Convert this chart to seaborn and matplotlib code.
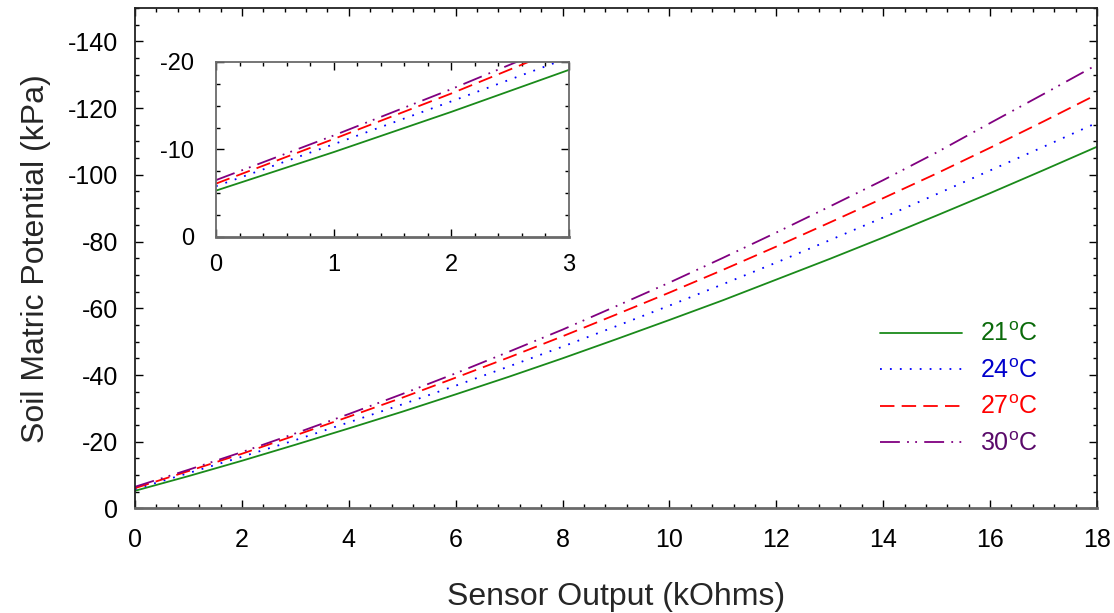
import numpy as np
import pandas as pd
import matplotlib
matplotlib.use("Agg")
import matplotlib.pyplot as plt
from matplotlib.ticker import MultipleLocator
import seaborn as sns

# ---- data ----
sensor_kohm = [0, 1, 2, 3, 4, 5, 6, 7, 8, 9, 10, 11, 12, 13, 14, 15, 16, 17, 18]
t21 = [-5.3, -9.7, -14.3, -19.1, -24.0, -29.0, -34.2, -39.5, -45.0, -50.7, -56.5,
       -62.4, -68.6, -74.8, -81.2, -87.8, -94.5, -101.4, -108.4]
t24 = [-5.8, -10.6, -15.5, -20.5, -25.8, -31.2, -36.8, -42.6, -48.5, -54.6, -60.8,
       -67.2, -73.7, -80.4, -87.2, -94.2, -101.3, -108.4, -115.6]
t27 = [-6.1, -11.2, -16.4, -21.9, -27.5, -33.2, -39.2, -45.3, -51.6, -58.1, -64.7,
       -71.5, -78.5, -85.7, -93.0, -100.4, -108.1, -116.0, -124.1]
t30 = [-6.5, -11.6, -16.9, -22.5, -28.3, -34.3, -40.5, -47.0, -53.6, -60.6, -67.7,
       -75.1, -82.7, -90.5, -98.4, -106.7, -115.5, -124.2, -133.0]
series_labels = ["21$^\\mathrm{o}$C", "24$^\\mathrm{o}$C", "27$^\\mathrm{o}$C", "30$^\\mathrm{o}$C"]
x_ticks_main = [0, 2, 4, 6, 8, 10, 12, 14, 16, 18]
y_ticks_main = [0, -20, -40, -60, -80, -100, -120, -140]
x_ticks_inset = [0, 1, 2, 3]
y_ticks_inset = [0, -10, -20]

# ---- styles ----
line_colors = ["#1a8a1a", "#0000ff", "#ff0000", "#800080"]
text_colors = ["#0a6a0a", "#0000cc", "#ff0000", "#5a0a6a"]
line_styles = ["-", (0, (1, 4.5)), (0, (8, 4)), (0, (11, 4, 1, 3.5, 1, 4))]

sns.set_theme(style="ticks")
plt.rcParams["font.family"] = ["Liberation Sans", "DejaVu Sans"]
plt.rcParams["mathtext.fontset"] = "custom"
plt.rcParams["mathtext.rm"] = "Liberation Sans"
plt.rcParams["axes.unicode_minus"] = False

df = pd.DataFrame({"x": sensor_kohm})
for lab, vals in zip(series_labels, [t21, t24, t27, t30]):
    df[lab] = vals

fig = plt.figure(figsize=(11.14, 6.13), dpi=100)
ax = fig.add_axes([0.1212, 0.1705, 0.8635, 0.8165])
axin = fig.add_axes([0.1939, 0.6134, 0.3169, 0.2855])


def style_axes(a, xmaj, xmin, ymaj, ymin, fs, xpad, ypad):
    a.xaxis.set_major_locator(MultipleLocator(xmaj))
    a.xaxis.set_minor_locator(MultipleLocator(xmin))
    a.yaxis.set_major_locator(MultipleLocator(ymaj))
    a.yaxis.set_minor_locator(MultipleLocator(ymin))
    a.tick_params(which="both", direction="in", top=True, right=True,
                  color="black", width=1.0)
    a.tick_params(which="major", length=6)
    a.tick_params(which="minor", length=3)
    a.tick_params(axis="x", which="major", labelsize=fs, pad=xpad, labelcolor="black")
    a.tick_params(axis="y", which="major", labelsize=fs, pad=ypad, labelcolor="black")
    for s in a.spines.values():
        s.set_color("#222222")
        s.set_linewidth(1.3)
    a.spines["bottom"].set_color("#6a6a6a")
    a.spines["bottom"].set_linewidth(2.0)


for a in (ax, axin):
    for lab, c, ls in zip(series_labels, line_colors, line_styles):
        sns.lineplot(data=df, x="x", y=lab, ax=a, color=c, linestyle=ls,
                     linewidth=1.3, label=lab, legend=False)

ax.set_xlim(0, 18)
ax.set_ylim(0, -150)
ax.set_xticks(x_ticks_main)
ax.set_yticks(y_ticks_main)
style_axes(ax, 2, 0.4, 20, 5, 18, 14, 12)
ax.set_xlabel("Sensor Output (kOhms)", fontsize=23, labelpad=22)
ax.set_ylabel("Soil Matric Potential (kPa)", fontsize=23, labelpad=12)

axin.set_xlim(0, 3)
axin.set_ylim(0, -20)
style_axes(axin, 1, 0.2, 10, 2.5, 17, 12, 16)
axin.set_xticks(x_ticks_inset)
axin.set_yticks(y_ticks_inset)
axin.set_xlabel("")
axin.set_ylabel("")
for s in axin.spines.values():
    s.set_color("#6a6a6a")

handles, labels = ax.get_legend_handles_labels()
leg = ax.legend(handles, labels, loc="upper left", bbox_to_anchor=(0.774, 0.372),
                frameon=False, fontsize=18, handlelength=3.3, handletextpad=0.7,
                labelspacing=0.5, borderaxespad=0, borderpad=0)
for t, c in zip(leg.get_texts(), text_colors):
    t.set_color(c)

fig.savefig("out.png", dpi=100, facecolor="white")
